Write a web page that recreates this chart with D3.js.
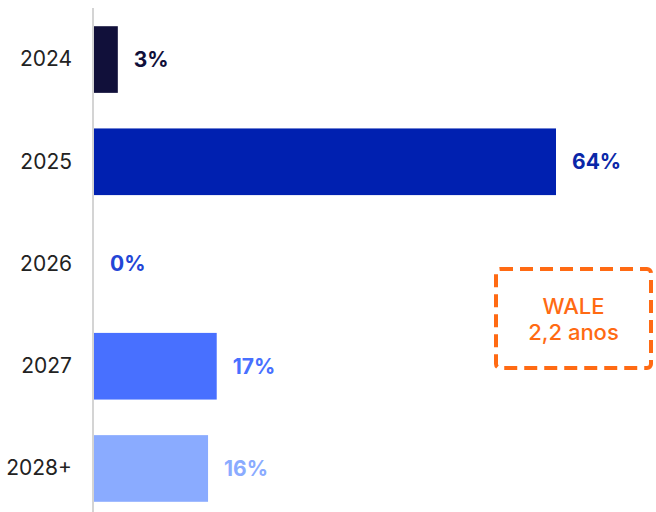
<!DOCTYPE html>
<html>
<head>
<meta charset="utf-8">
<script src="https://cdn.jsdelivr.net/npm/d3@7"></script>
<style>
  html, body { margin: 0; padding: 0; background: #fff; }
  svg { display: block; font-family: Inter, "Noto Sans", sans-serif; }
</style>
</head>
<body>
<svg id="chart" width="656" height="512"></svg>
<script>
// vencimento dos contratos (% da receita)
const years = ['2024', '2025', '2026', '2027', '2028+'];
const shares = [3.3, 64, 0, 17, 15.8];
const shareLabels = ['3%', '64%', '0%', '17%', '16%'];
const barColors = ['#11103a', '#0020b0', '#2346d6', '#4870ff', '#8aabff'];
const labelColors = ['#11103a', '#0a27a8', '#2346d6', '#4870ff', '#8aabff'];
const waleLines = ['WALE', '2,2 anos'];

const svg = d3.select('#chart');
const width = 656;
const height = 512;

const axisX = 93;

const x = d3.scaleLinear()
    .domain([0, 64])
    .range([axisX + 1, 556]);

const y = d3.scaleBand()
    .domain(years)
    .range([12, 516])
    .paddingInner(0.348)
    .paddingOuter(0.139);

const data = years.map((year, i) => ({
    year: year,
    value: shares[i],
    label: shareLabels[i],
    color: barColors[i],
    labelColor: labelColors[i]
}));

// bars
svg.append('g')
    .selectAll('rect')
    .data(data.filter((d) => d.value > 0))
    .join('rect')
    .attr('x', x(0))
    .attr('y', (d) => y(d.year))
    .attr('width', (d) => x(d.value) - x(0))
    .attr('height', y.bandwidth())
    .attr('fill', (d) => d.color);

// value labels
svg.append('g')
    .selectAll('text')
    .data(data)
    .join('text')
    .attr('x', (d) => x(d.value) + 16)
    .attr('y', (d) => y(d.year) + y.bandwidth() / 2)
    .attr('dy', '0.35em')
    .attr('fill', (d) => d.labelColor)
    .attr('font-size', 21)
    .attr('font-weight', 700)
    .text((d) => d.label);

// category axis
const yAxis = svg.append('g')
    .attr('transform', `translate(${axisX},0)`)
    .call(d3.axisLeft(y).tickSize(0).tickPadding(21));

yAxis.select('.domain').remove();
yAxis.selectAll('text')
    .attr('font-size', 21)
    .attr('font-family', 'Inter, "Noto Sans", sans-serif')
    .attr('fill', '#222');

svg.append('line')
    .attr('x1', axisX)
    .attr('x2', axisX)
    .attr('y1', 8)
    .attr('y2', height)
    .attr('stroke', '#d4d4d4')
    .attr('stroke-width', 2);

// WALE annotation
const wale = svg.append('g');

wale.append('rect')
    .attr('x', 496)
    .attr('y', 269)
    .attr('width', 155)
    .attr('height', 99)
    .attr('rx', 4)
    .attr('fill', 'none')
    .attr('stroke', '#ff6a13')
    .attr('stroke-width', 4)
    .attr('stroke-dasharray', '13 7');

wale.selectAll('text')
    .data(waleLines)
    .join('text')
    .attr('x', 573.5)
    .attr('y', (d, i) => 314 + i * 26)
    .attr('text-anchor', 'middle')
    .attr('fill', '#ff6a13')
    .attr('font-size', 22)
    .attr('font-weight', 500)
    .text((d) => d);
</script>
</body>
</html>
